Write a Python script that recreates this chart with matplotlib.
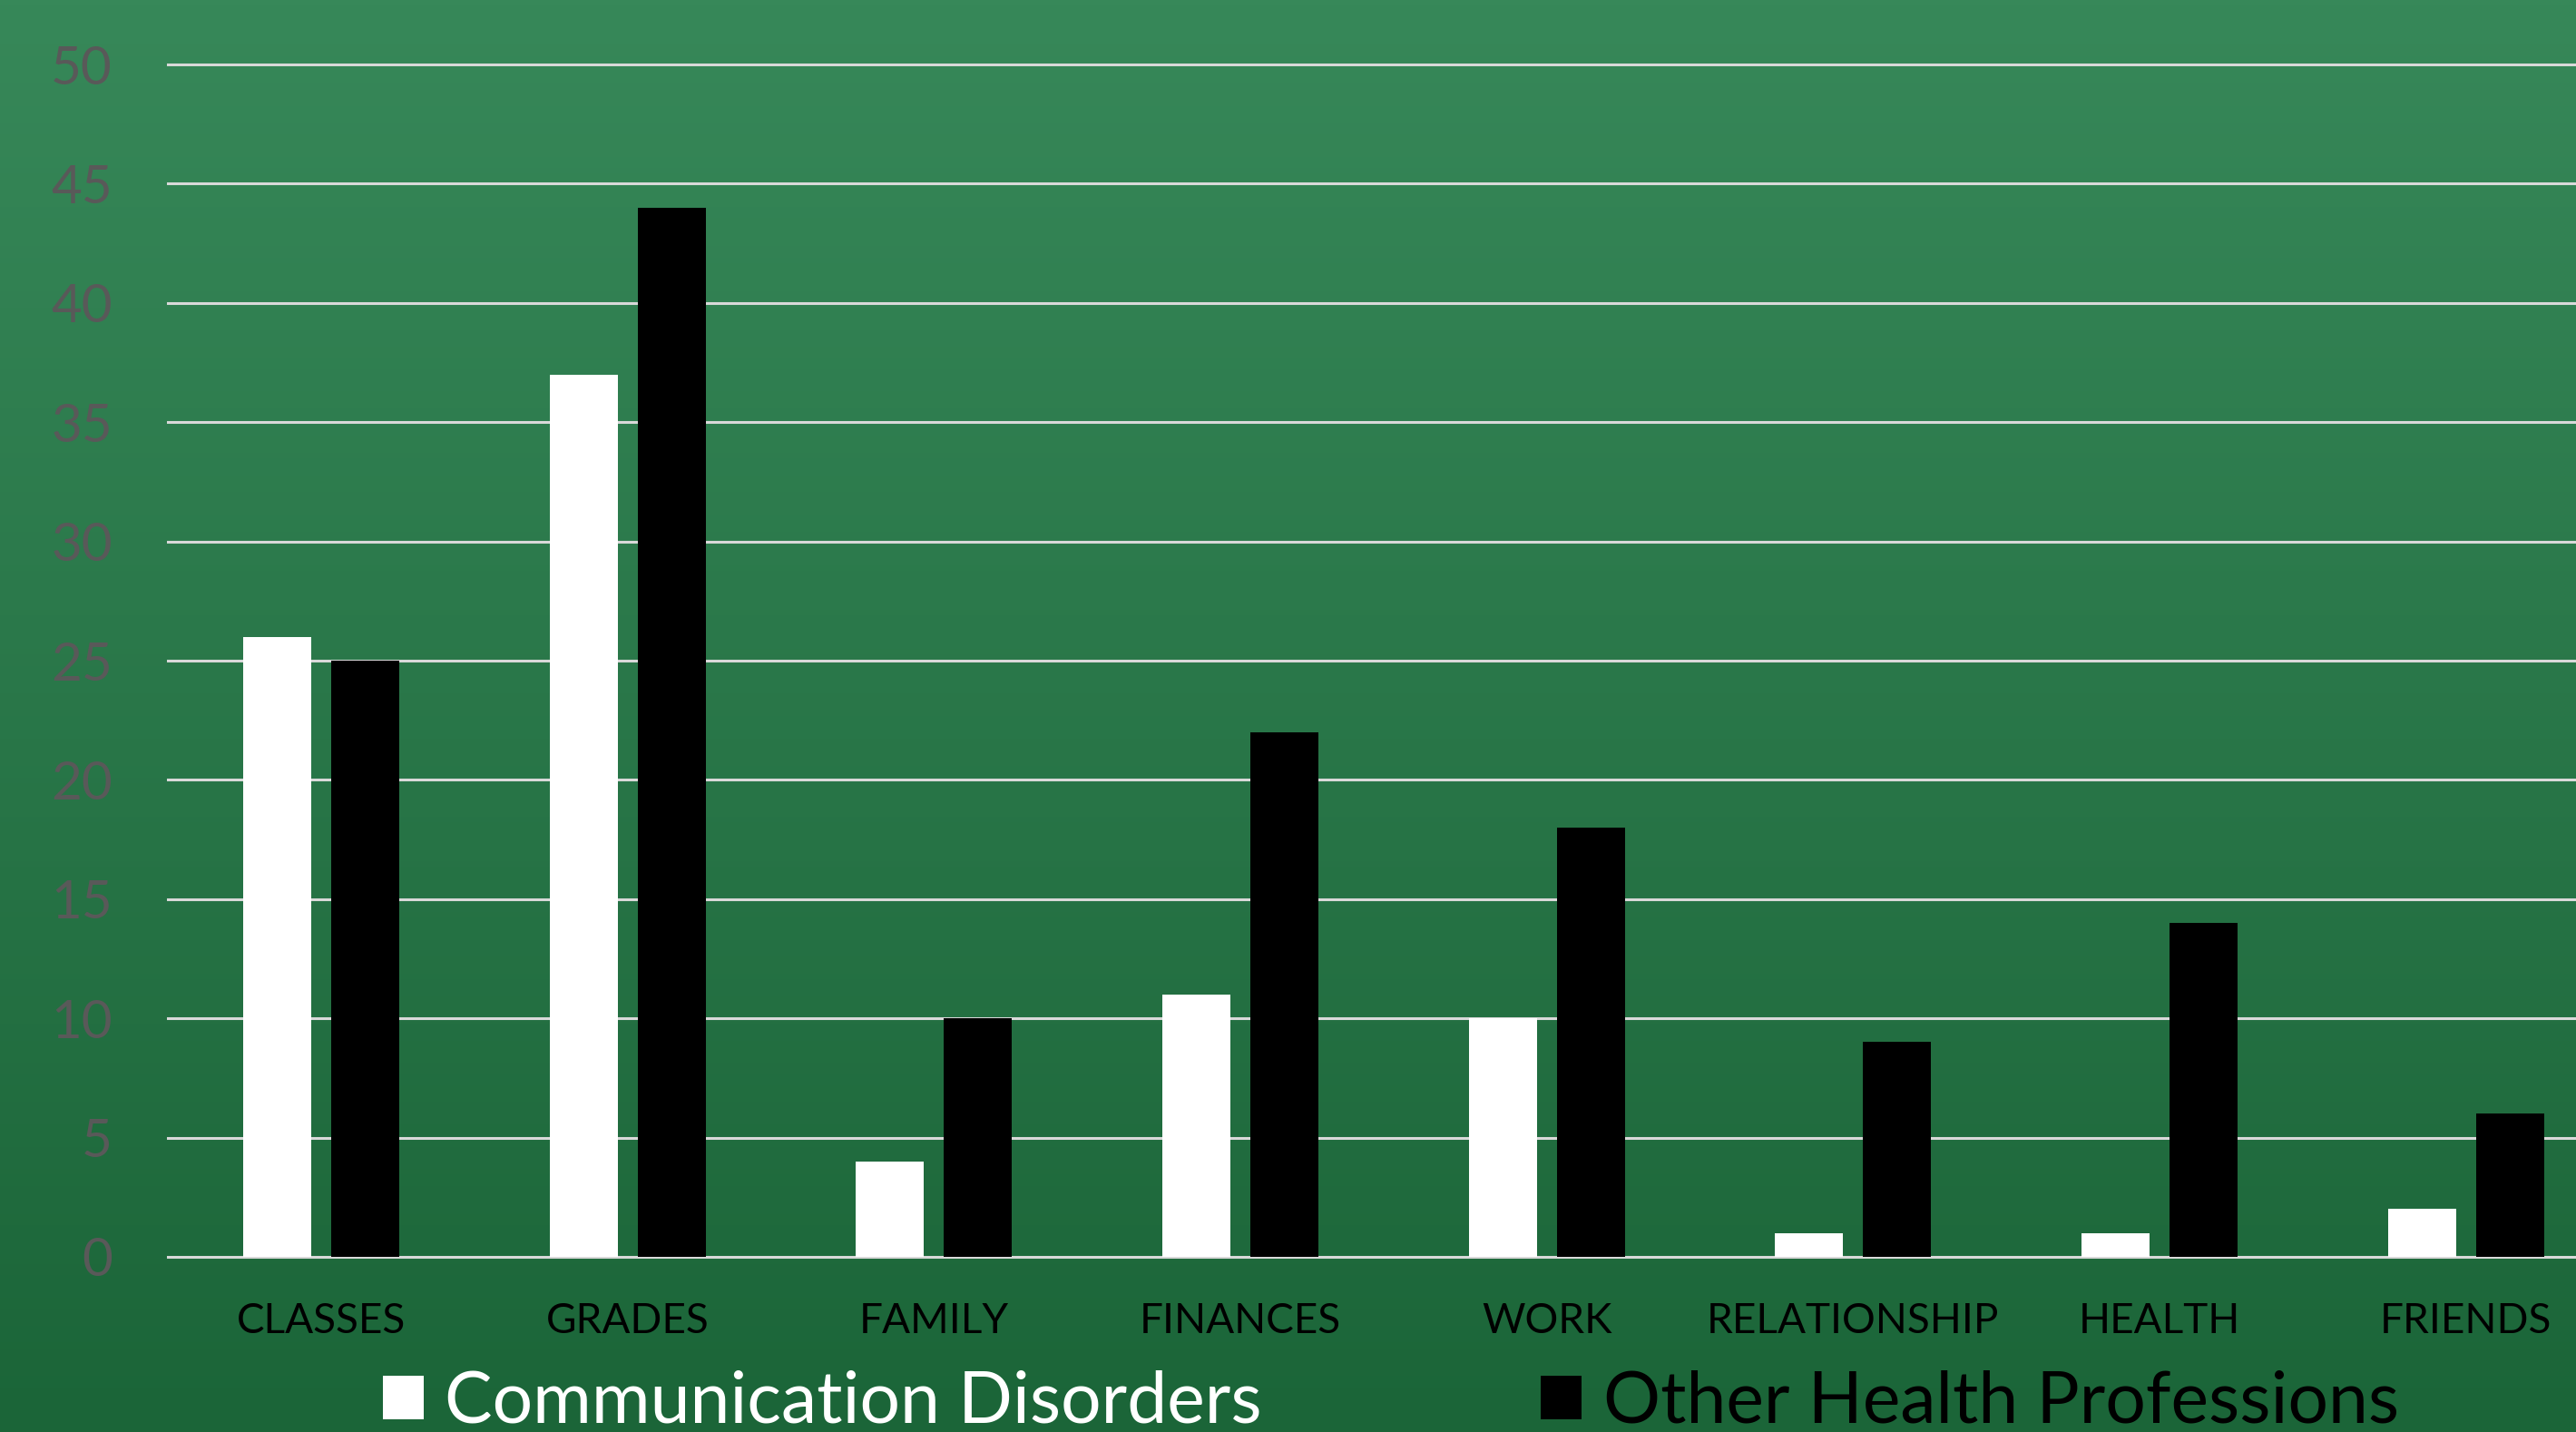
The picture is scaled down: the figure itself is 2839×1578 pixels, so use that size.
import numpy as np
import matplotlib
matplotlib.use("Agg")
import matplotlib.pyplot as plt
from matplotlib.colors import LinearSegmentedColormap

categories = ["CLASSES", "GRADES", "FAMILY", "FINANCES", "WORK", "RELATIONSHIP", "HEALTH", "FRIENDS"]
comm_disorders = [26, 37, 4, 11, 10, 1, 1, 2]
other_health = [25, 44, 10, 22, 18, 9, 14, 6]
series_names = ["Communication Disorders", "Other Health Professions"]
yticks = [0, 5, 10, 15, 20, 25, 30, 35, 40, 45, 50]

FONT = ["Lato", "DejaVu Sans"]
plt.rcParams["font.family"] = FONT

W, H = 2839, 1578
fig = plt.figure(figsize=(W / 100, H / 100), dpi=100)

# gradient background
bg = fig.add_axes([0, 0, 1, 1], zorder=-10)
cmap = LinearSegmentedColormap.from_list("g", ["#1B6538", "#378859"])
grad = np.linspace(0, 1, 256).reshape(-1, 1)
bg.imshow(grad, aspect="auto", cmap=cmap, origin="lower", extent=[0, 1, 0, 1])
bg.set_axis_off()

left = 185 / W
bottom = 1 - 1385 / H
top_px = 71 - (1385 - 71) / 50 * 1.0
height = (1385 - top_px) / H
ax = fig.add_axes([left, bottom, 1 - left, height])
ax.patch.set_alpha(0)

x = np.arange(len(categories))
bw = 0.222
off = 0.1436
b1 = ax.bar(x - off, comm_disorders, bw, color="white", zorder=3, label=series_names[0])
b2 = ax.bar(x + off, other_health, bw, color="black", zorder=3, label=series_names[1])

xmax = -0.5 + (W - 185) / 337.7
ax.set_xlim(-0.5, xmax)
ax.set_ylim(0, 51)
ax.set_yticks(yticks)
ax.set_yticklabels([str(v) for v in yticks], fontsize=42, color="#595959")
ax.set_xticks(x)
ax.set_xticklabels(categories, fontsize=33, color="black")
ax.tick_params(axis="both", length=0)
ax.tick_params(axis="y", pad=44)
ax.tick_params(axis="x", pad=36)
for s in ax.spines.values():
    s.set_visible(False)
for v in yticks:
    ax.axhline(v, color="#D9D9D9", lw=2.2, zorder=1, clip_on=False)

leg = fig.legend(handles=[b1, b2], labels=series_names, loc="center",
                 bbox_to_anchor=(0.5399, 0.0205), ncol=2, frameon=False,
                 fontsize=56.7, handlelength=0.57, handleheight=0.57,
                 handletextpad=0.3, columnspacing=3.9, borderaxespad=0, borderpad=0)
for t, c in zip(leg.get_texts(), ["white", "black"]):
    t.set_color(c)

fig.savefig("out.png", dpi=100)
